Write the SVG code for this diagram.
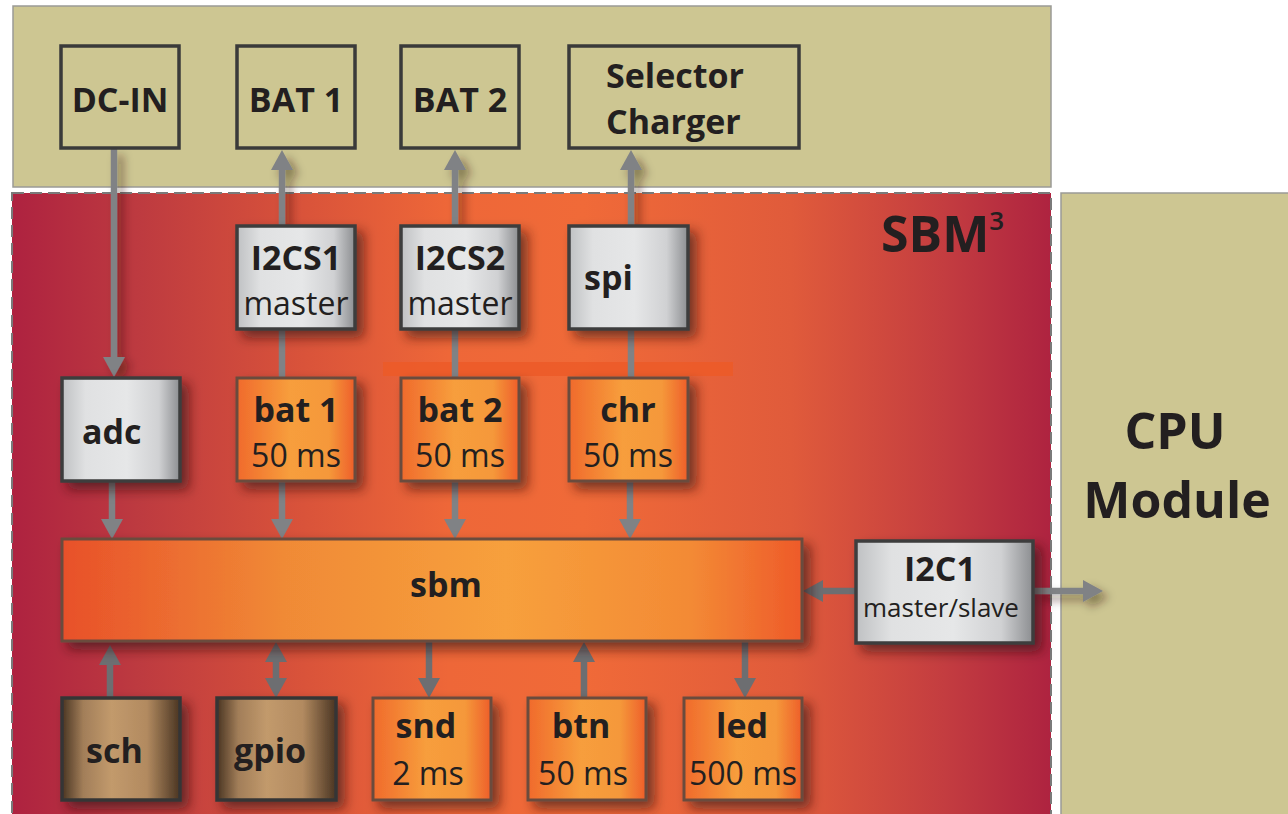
<svg xmlns="http://www.w3.org/2000/svg" width="1288" height="814" viewBox="0 0 1288 814">
<defs>
<linearGradient id="bg" x1="0" y1="0" x2="1" y2="0">
<stop offset="0" stop-color="#ae2240"/>
<stop offset="0.12" stop-color="#bd3a40"/>
<stop offset="0.28" stop-color="#d9533a"/>
<stop offset="0.42" stop-color="#ee6738"/>
<stop offset="0.55" stop-color="#f06a38"/>
<stop offset="0.75" stop-color="#e05b3b"/>
<stop offset="0.9" stop-color="#c33c40"/>
<stop offset="1" stop-color="#ae2340"/>
</linearGradient>
<linearGradient id="gray" x1="0" y1="0" x2="1" y2="0">
<stop offset="0" stop-color="#bfc1c3"/>
<stop offset="0.2" stop-color="#e0e1e2"/>
<stop offset="0.55" stop-color="#e6e7e8"/>
<stop offset="0.82" stop-color="#d0d1d3"/>
<stop offset="1" stop-color="#8c8e91"/>
</linearGradient>
<linearGradient id="org" x1="0" y1="0" x2="1" y2="0">
<stop offset="0" stop-color="#f06a2c"/>
<stop offset="0.45" stop-color="#f79e3c"/>
<stop offset="0.78" stop-color="#f5983a"/>
<stop offset="1" stop-color="#ee5e2a"/>
</linearGradient>
<linearGradient id="sbmg" x1="0" y1="0" x2="1" y2="0">
<stop offset="0" stop-color="#e8502a"/>
<stop offset="0.3" stop-color="#f08a36"/>
<stop offset="0.6" stop-color="#f7a03c"/>
<stop offset="0.85" stop-color="#f38a35"/>
<stop offset="1" stop-color="#ee5a2a"/>
</linearGradient>
<linearGradient id="brn" x1="0" y1="0" x2="1" y2="0">
<stop offset="0" stop-color="#4a3522"/>
<stop offset="0.18" stop-color="#a27e59"/>
<stop offset="0.42" stop-color="#c29a6c"/>
<stop offset="0.72" stop-color="#b28a60"/>
<stop offset="1" stop-color="#4a3522"/>
</linearGradient>
<filter id="sh" x="-30%" y="-30%" width="170%" height="170%">
<feDropShadow dx="7" dy="7" stdDeviation="6" flood-color="#2a0a08" flood-opacity="0.6"/>
</filter>
<filter id="lsh" filterUnits="userSpaceOnUse" x="0" y="0" width="1288" height="814">
<feDropShadow dx="6" dy="6" stdDeviation="5" flood-color="#2a1a10" flood-opacity="0.45"/>
</filter>
<marker id="ah" viewBox="0 0 20 22" refX="0" refY="11" markerWidth="20" markerHeight="22" markerUnits="userSpaceOnUse" orient="auto-start-reverse">
<path d="M0,0 L20,11 L0,22 Z" fill="#808285"/>
</marker>
<marker id="ahd" viewBox="0 0 20 22" refX="0" refY="11" markerWidth="20" markerHeight="22" markerUnits="userSpaceOnUse" orient="auto-start-reverse">
<path d="M0,0 L20,11 L0,22 Z" fill="#6d6e71"/>
</marker>
<style>
.panel{fill:#cdc692;stroke:#9a9a96;stroke-width:1.5}
.ext{fill:none;stroke:#3a3a3a;stroke-width:3.5}
.g{fill:url(#gray);stroke:#3d3d3d;stroke-width:3.5;filter:url(#sh)}
.o{fill:url(#org);stroke:#6b4b3e;stroke-width:3;filter:url(#sh)}
.b{fill:url(#brn);stroke:#363636;stroke-width:3.5;filter:url(#sh)}
text{font-family:"Open Sans","Noto Sans","Liberation Sans",sans-serif;fill:#231f20}
.bt{font-size:34px;font-weight:700}
.rt{font-size:32px;font-weight:400}
.c{text-anchor:middle}
.l1{stroke:#808285;stroke-width:6.5;fill:none}
.l2{stroke:#6d6e71;stroke-width:6.5;fill:none}
</style>
</defs>

<g id="background">
<rect x="13" y="6" width="1038" height="181" class="panel"/>
<rect x="12" y="193" width="1039" height="630" fill="url(#bg)"/>
<rect x="12" y="193" width="1039" height="630" fill="none" stroke="#7a7a7a" stroke-width="2" stroke-dasharray="12,6"/>
<rect x="1061" y="193" width="240" height="630" class="panel"/>
<rect x="383" y="362" width="350" height="14" fill="#ec5a28" opacity="0.85"/>
<text x="881" y="252" style="font-size:50px;font-weight:700">SBM<tspan dy="-22" style="font-size:26px;font-weight:600">3</tspan></text>
</g>

<g id="cpu-module">
<text x="1175" y="449" class="c" style="font-size:50px;font-weight:700">CPU</text>
<text x="1177" y="518" class="c" style="font-size:50px;font-weight:700">Module</text>
</g>

<g id="connectors">
<g filter="url(#lsh)">
<path d="M114,149 V357" class="l1" marker-end="url(#ah)"/>
<path d="M282,226 V170" class="l1" marker-end="url(#ah)"/>
<path d="M455,226 V170" class="l1" marker-end="url(#ah)"/>
<path d="M631,226 V170" class="l1" marker-end="url(#ah)"/>
<path d="M1033,591 H1083" class="l1" marker-end="url(#ah)"/>
</g>
<path d="M282,330 V378" class="l1"/>
<path d="M455,330 V378" class="l1"/>
<path d="M631,330 V378" class="l1"/>
<path d="M112,482 V519" class="l1" marker-end="url(#ah)"/>
<path d="M282,482 V519" class="l1" marker-end="url(#ah)"/>
<path d="M455,482 V519" class="l1" marker-end="url(#ah)"/>
<path d="M630,482 V519" class="l1" marker-end="url(#ah)"/>
<path d="M856,591 H823" class="l2" marker-end="url(#ahd)"/>
<path d="M110,698 V665" class="l2" marker-end="url(#ahd)"/>
<path d="M276,662 V678" class="l2" marker-start="url(#ahd)" marker-end="url(#ahd)"/>
<path d="M429,642 V678" class="l2" marker-end="url(#ahd)"/>
<path d="M584,698 V662" class="l2" marker-end="url(#ahd)"/>
<path d="M745,642 V678" class="l2" marker-end="url(#ahd)"/>
</g>

<g id="dc-in"><rect x="61" y="46" width="118" height="102" class="ext"/><text x="120" y="112" class="bt c">DC-IN</text></g>
<g id="bat1-ext"><rect x="237" y="46" width="118" height="102" class="ext"/><text x="296" y="112" class="bt c">BAT 1</text></g>
<g id="bat2-ext"><rect x="401" y="46" width="118" height="102" class="ext"/><text x="460" y="112" class="bt c">BAT 2</text></g>
<g id="selector-charger"><rect x="569" y="46" width="230" height="102" class="ext"/><text x="606" y="88" class="bt">Selector</text><text x="606" y="134" class="bt">Charger</text></g>

<g id="i2cs1"><rect x="237" y="226" width="118" height="103" class="g"/><text x="296" y="270" class="bt c">I2CS1</text><text x="296" y="315" class="rt c">master</text></g>
<g id="i2cs2"><rect x="401" y="226" width="118" height="103" class="g"/><text x="460" y="270" class="bt c">I2CS2</text><text x="460" y="315" class="rt c">master</text></g>
<g id="spi"><rect x="569" y="226" width="119" height="103" class="g"/><text x="584" y="290" class="bt">spi</text></g>

<g id="adc"><rect x="62" y="378" width="118" height="103" class="g"/><text x="82" y="444" class="bt">adc</text></g>
<g id="bat1"><rect x="237" y="378" width="118" height="103" class="o"/><text x="296" y="422" class="bt c">bat 1</text><text x="296" y="467" class="rt c">50 ms</text></g>
<g id="bat2"><rect x="401" y="378" width="118" height="103" class="o"/><text x="460" y="422" class="bt c">bat 2</text><text x="460" y="467" class="rt c">50 ms</text></g>
<g id="chr"><rect x="569" y="378" width="119" height="103" class="o"/><text x="628" y="422" class="bt c">chr</text><text x="628" y="467" class="rt c">50 ms</text></g>

<g id="sbm"><rect x="62" y="539" width="740" height="102" fill="url(#sbmg)" stroke="#6b4b3e" stroke-width="3" filter="url(#sh)"/><text x="446" y="597" class="bt c">sbm</text></g>
<g id="i2c1"><rect x="856" y="541" width="177" height="102" class="g"/><text x="940" y="581" class="bt c">I2C1</text><text x="941" y="617" class="c" style="font-size:26px">master/slave</text></g>

<g id="sch"><rect x="62" y="698" width="118" height="102" class="b"/><text x="86" y="763" class="bt">sch</text></g>
<g id="gpio"><rect x="217" y="698" width="119" height="102" class="b"/><text x="234" y="763" class="bt">gpio</text></g>
<g id="snd"><rect x="373" y="698" width="118" height="102" class="o"/><text x="426" y="738" class="bt c">snd</text><text x="428" y="785" class="rt c">2 ms</text></g>
<g id="btn"><rect x="528" y="698" width="118" height="102" class="o"/><text x="581" y="738" class="bt c">btn</text><text x="583" y="785" class="rt c">50 ms</text></g>
<g id="led"><rect x="684" y="698" width="118" height="102" class="o"/><text x="742" y="738" class="bt c">led</text><text x="743" y="785" class="rt c">500 ms</text></g>
</svg>
